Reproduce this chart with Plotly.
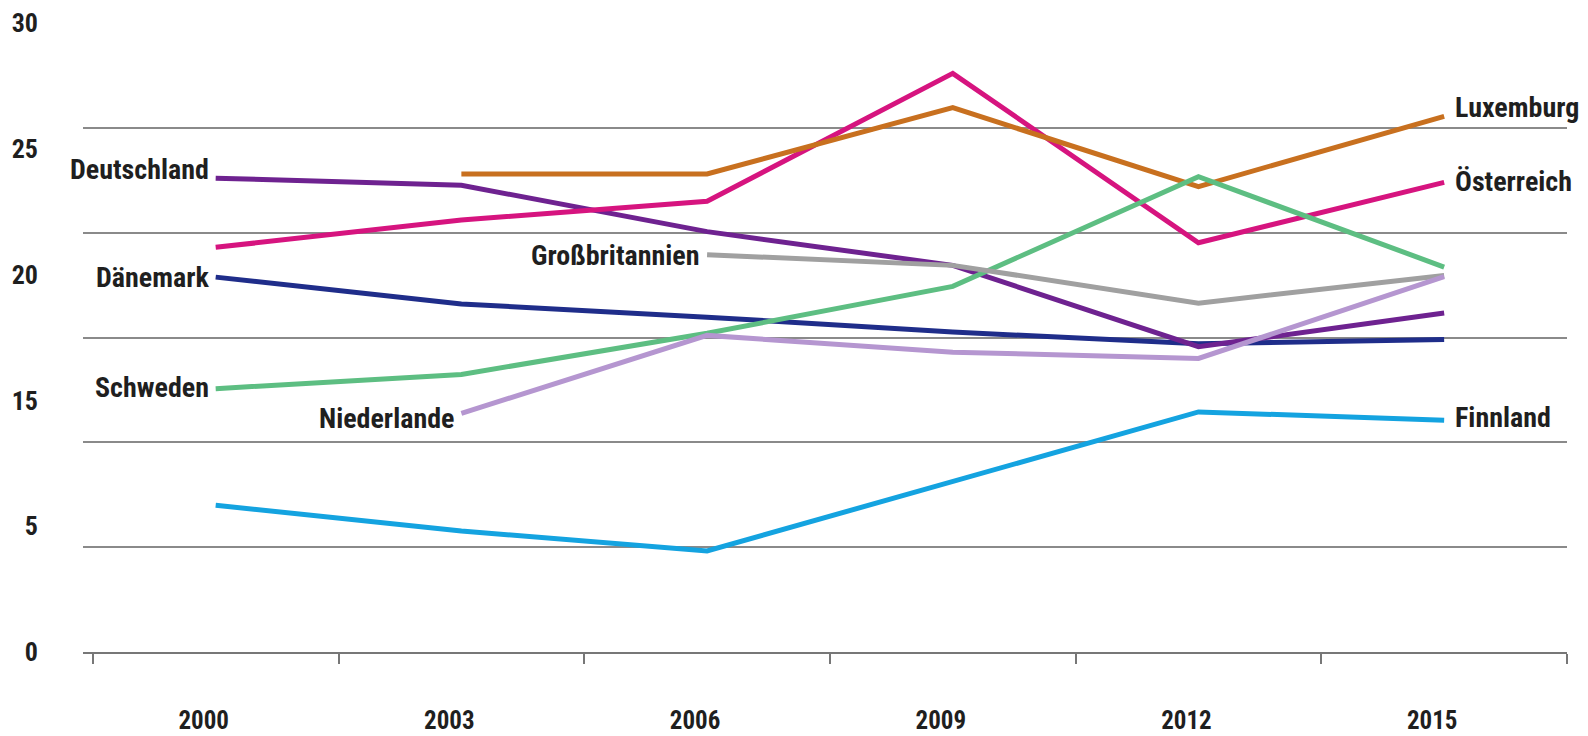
import plotly.graph_objects as go

years = ["2000", "2003", "2006", "2009", "2012", "2015"]

deutschland = [22.6, 22.26, 20.05, 18.44, 14.56, 16.17]
daenemark = [17.88, 16.6, 15.97, 15.26, 14.7, 14.91]
schweden = [12.56, 13.24, 15.2, 17.44, 22.67, 18.36]
niederlande = [None, 11.38, 15.1, 14.3, 14.0, 17.9]
grossbritannien = [None, None, 18.95, 18.44, 16.64, 17.96]
luxemburg = [None, 22.8, 22.8, 25.96, 22.2, 25.55]
oesterreich = [19.3, 20.6, 21.5, 27.6, 19.52, 22.4]
finnland = [7.0, 5.77, 4.82, 8.14, 11.45, 11.05]

grid_vals = [0, 5, 10, 15, 20, 25, 30]
ylabel_vals = [0, 6, 12, 18, 24, 30]
ylabel_text = ["0", "5", "15", "20", "25", "30"]

FONT = "Liberation Sans Narrow, Arial Narrow, Roboto Condensed, Liberation Sans, Arial, sans-serif"
TXT = "#1f1f1f"

series = [
    ("Finnland", finnland, "#14a3e0", "end", 3),
    ("Dänemark", daenemark, "#1f2d8a", "start", 0),
    ("Deutschland", deutschland, "#6e2290", "start", 9),
    ("Österreich", oesterreich, "#d6147f", "end", 1),
    ("Luxemburg", luxemburg, "#c8701f", "end", 9),
    ("Schweden", schweden, "#5dbe82", "start", 1),
    ("Großbritannien", grossbritannien, "#a0a0a0", "start", -1),
    ("Niederlande", niederlande, "#b596d0", "start", -5),
]

fig = go.Figure()
for name, vals, color, where, dy in series:
    fig.add_trace(go.Scatter(x=years, y=vals, mode="lines", name=name,
                             line=dict(color=color, width=5), connectgaps=False,
                             showlegend=False, hoverinfo="skip"))

for name, vals, color, where, dy in series:
    idx = [i for i, v in enumerate(vals) if v is not None]
    i = idx[0] if where == "start" else idx[-1]
    fig.add_annotation(
        x=i, y=vals[i], xref="x", yref="y", text=name, showarrow=False,
        xanchor="right" if where == "start" else "left",
        xshift=-5 if where == "start" else 9, yshift=dy,
        font=dict(family=FONT, size=28, color=TXT, weight="bold"))

# dummy trace to carry the label axis
fig.add_trace(go.Scatter(x=[years[0]], y=[None], yaxis="y2", showlegend=False,
                         hoverinfo="skip", mode="lines"))

fig.update_layout(
    width=1580, height=728,
    margin=dict(l=75, r=21, t=15, b=84, autoexpand=False),
    paper_bgcolor="white", plot_bgcolor="white",
    xaxis=dict(type="category", range=[-0.54, 5.5], tickson="boundaries",
               ticks="outside", ticklen=10, tickwidth=1.5, tickcolor="#777",
               showline=True, linecolor="#777", linewidth=1.5,
               showgrid=False, zeroline=False, automargin=False,
               ticklabelstandoff=45, ticklabelshift=-12,
               tickfont=dict(family=FONT, size=25, color=TXT, weight="bold")),
    yaxis=dict(range=[0, 30], tickmode="array", tickvals=grid_vals,
               showticklabels=False, showgrid=True, gridcolor="#8a8a8a",
               gridwidth=1.5, zeroline=False, ticks="", automargin=False),
    yaxis2=dict(range=[0, 30], overlaying="y", side="left", anchor="x",
                tickmode="array", tickvals=ylabel_vals, ticktext=ylabel_text,
                showgrid=False, zeroline=False, ticks="", automargin=False,
                ticklabelstandoff=44,
                tickfont=dict(family=FONT, size=26, color=TXT, weight="bold")),
)

fig.write_html("out.html")
